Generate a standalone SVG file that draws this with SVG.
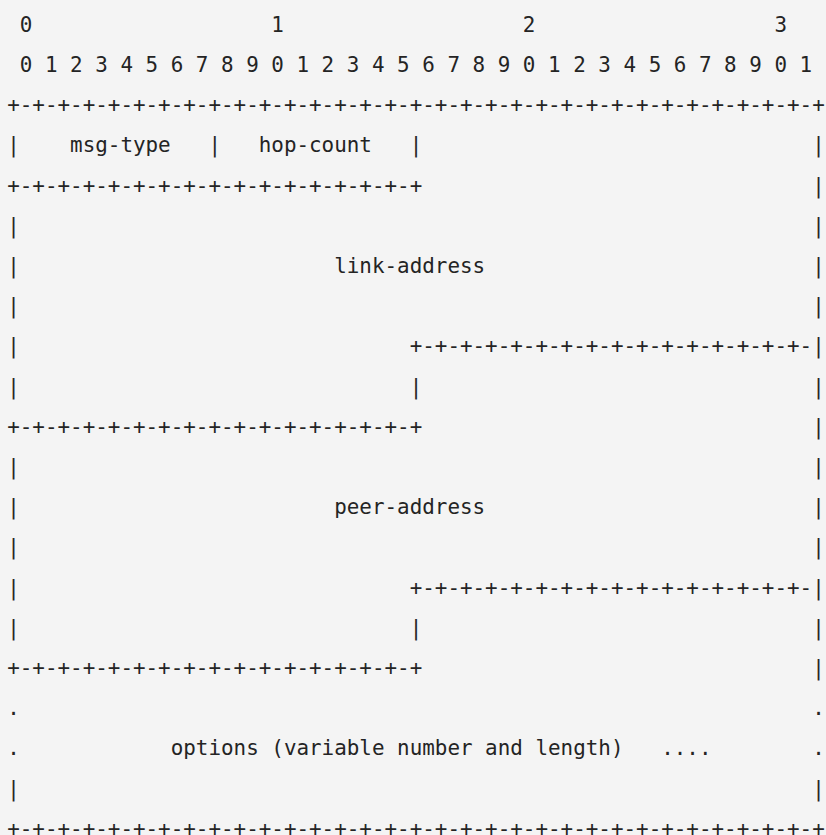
<svg xmlns="http://www.w3.org/2000/svg" width="826" height="835" viewBox="0 0 826 835">
  <style>
    .t { font-family: "DejaVu Sans Mono", "Liberation Mono", monospace; font-size: 20.9px; fill: #242424; white-space: pre; }
  </style>
  <rect x="0" y="0" width="826" height="835" fill="#f4f4f4"/>
  <g id="ruler">
    <text class="t" x="7.2" y="31.7" xml:space="preserve"> 0                   1                   2                   3</text>
    <text class="t" x="7.2" y="71.9" xml:space="preserve"> 0 1 2 3 4 5 6 7 8 9 0 1 2 3 4 5 6 7 8 9 0 1 2 3 4 5 6 7 8 9 0 1</text>
  </g>
  <g id="packet">
    <text class="t" x="7.2" y="112.1" xml:space="preserve">+-+-+-+-+-+-+-+-+-+-+-+-+-+-+-+-+-+-+-+-+-+-+-+-+-+-+-+-+-+-+-+-+</text>
    <text class="t" x="7.2" y="152.3" xml:space="preserve">|    msg-type   |   hop-count   |                               |</text>
    <text class="t" x="7.2" y="192.5" xml:space="preserve">+-+-+-+-+-+-+-+-+-+-+-+-+-+-+-+-+                               |</text>
    <text class="t" x="7.2" y="232.7" xml:space="preserve">|                                                               |</text>
    <text class="t" x="7.2" y="272.9" xml:space="preserve">|                         link-address                          |</text>
    <text class="t" x="7.2" y="313.1" xml:space="preserve">|                                                               |</text>
    <text class="t" x="7.2" y="353.3" xml:space="preserve">|                               +-+-+-+-+-+-+-+-+-+-+-+-+-+-+-+-|</text>
    <text class="t" x="7.2" y="393.5" xml:space="preserve">|                               |                               |</text>
    <text class="t" x="7.2" y="433.7" xml:space="preserve">+-+-+-+-+-+-+-+-+-+-+-+-+-+-+-+-+                               |</text>
    <text class="t" x="7.2" y="473.9" xml:space="preserve">|                                                               |</text>
    <text class="t" x="7.2" y="514.1" xml:space="preserve">|                         peer-address                          |</text>
    <text class="t" x="7.2" y="554.3" xml:space="preserve">|                                                               |</text>
    <text class="t" x="7.2" y="594.5" xml:space="preserve">|                               +-+-+-+-+-+-+-+-+-+-+-+-+-+-+-+-|</text>
    <text class="t" x="7.2" y="634.7" xml:space="preserve">|                               |                               |</text>
    <text class="t" x="7.2" y="674.9" xml:space="preserve">+-+-+-+-+-+-+-+-+-+-+-+-+-+-+-+-+                               |</text>
    <text class="t" x="7.2" y="715.1" xml:space="preserve">.                                                               .</text>
    <text class="t" x="7.2" y="755.3" xml:space="preserve">.            options (variable number and length)   ....        .</text>
    <text class="t" x="7.2" y="795.5" xml:space="preserve">|                                                               |</text>
    <text class="t" x="7.2" y="835.7" xml:space="preserve">+-+-+-+-+-+-+-+-+-+-+-+-+-+-+-+-+-+-+-+-+-+-+-+-+-+-+-+-+-+-+-+-+</text>
  </g>
</svg>
